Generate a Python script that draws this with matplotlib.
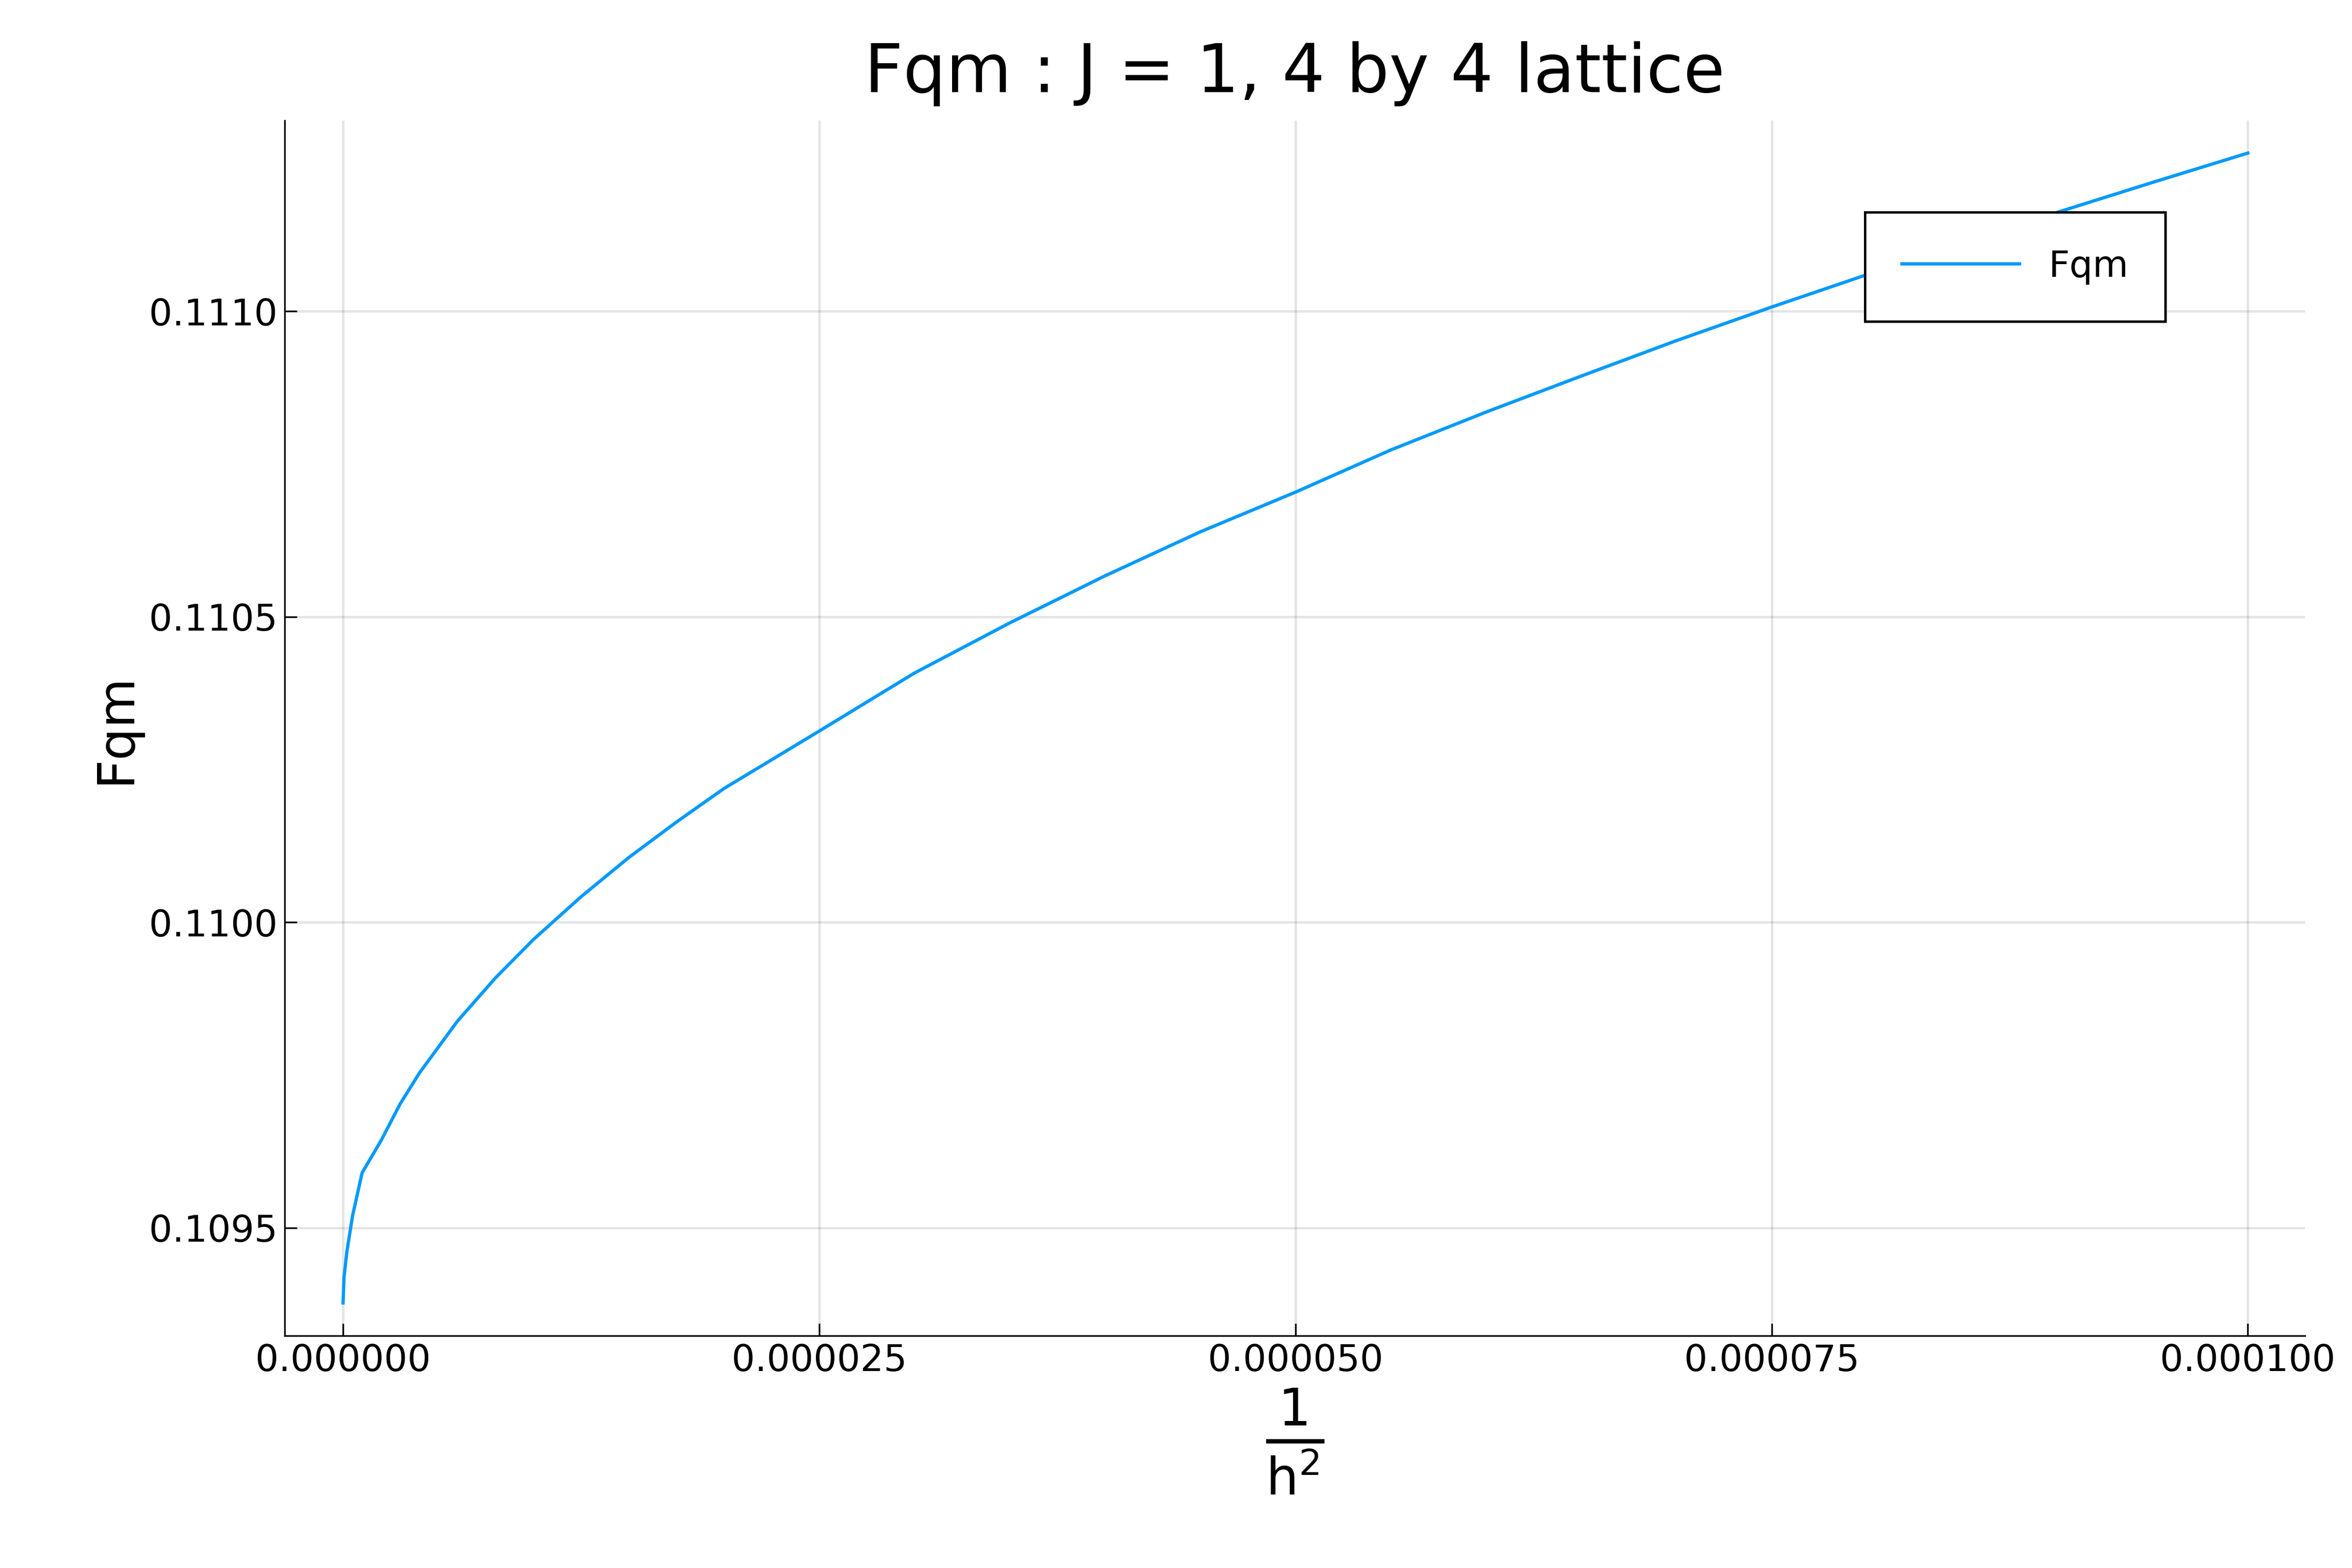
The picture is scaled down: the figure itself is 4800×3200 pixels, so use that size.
import matplotlib
matplotlib.use("Agg")
import matplotlib.pyplot as plt
from matplotlib.ticker import FixedLocator, FormatStrFormatter

# values
inv_h2 = [0.0, 0.05e-6, 0.2e-6, 0.5e-6, 1e-6, 2e-6, 3e-6, 4e-6, 6e-6, 8e-6, 1.0e-5,
          1.25e-5, 1.5e-5, 1.75e-5, 2.0e-5, 2.5e-5, 3.0e-5, 3.5e-5, 4.0e-5, 4.5e-5,
          5.0e-5, 5.5e-5, 6.0e-5, 6.5e-5, 7.0e-5, 7.5e-5, 8.0e-5, 8.5e-5, 9.0e-5,
          9.5e-5, 1.0e-4]
fqm = [0.109377, 0.109419, 0.109461, 0.109520, 0.109590, 0.109643, 0.109703, 0.109753,
       0.109838, 0.109909, 0.109972, 0.110042, 0.110106, 0.110164, 0.110219, 0.110313,
       0.110408, 0.110490, 0.110567, 0.110639, 0.110704, 0.110773, 0.110835, 0.110894,
       0.110952, 0.111007, 0.111060, 0.111112, 0.111162, 0.111211, 0.111259]

plt.rcParams["font.family"] = ["DejaVu Sans"]
fig, ax = plt.subplots(figsize=(16, 10.667), dpi=300)
fig.subplots_adjust(left=0.121, right=0.98, bottom=0.148, top=0.923)

ax.plot(inv_h2, fqm, color="#009AFA", lw=1.6, label="Fqm")
ax.set_xlim(-0.00000307, 0.000103)
ax.set_ylim(0.109323, 0.111312)
ax.xaxis.set_major_locator(FixedLocator([0, 0.000025, 0.00005, 0.000075, 0.0001]))
ax.yaxis.set_major_locator(FixedLocator([0.1095, 0.1100, 0.1105, 0.1110]))
ax.xaxis.set_major_formatter(FormatStrFormatter("%.6f"))
ax.yaxis.set_major_formatter(FormatStrFormatter("%.4f"))
ax.tick_params(labelsize=18, direction="in", length=6)
ax.grid(True, color="#000000", alpha=0.1, lw=1.2)
for s in ("top", "right"):
    ax.spines[s].set_visible(False)

ax.set_title("Fqm : J = 1, 4 by 4 lattice", fontsize=33, pad=14)
ax.set_ylabel("Fqm", fontsize=25)
ax.set_xlabel(r"$\mathregular{\frac{1}{h^2}}$", fontsize=36)

leg = ax.legend(loc="upper right", bbox_to_anchor=(0.94, 0.94), fontsize=18,
                fancybox=False, edgecolor="black", framealpha=1, borderpad=1.0,
                handlelength=3.2)
leg.get_frame().set_linewidth(1.2)

fig.savefig("out.png", dpi=300)
